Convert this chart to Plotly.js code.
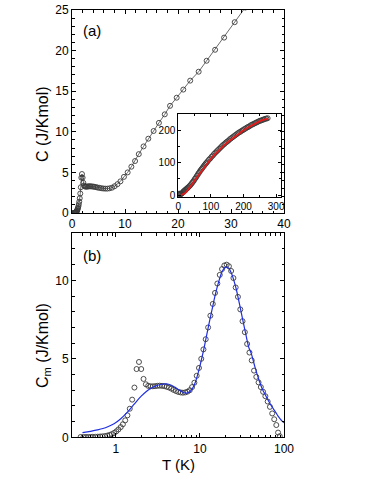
<!DOCTYPE html>
<html>
<head>
<meta charset="utf-8">
<script src="https://cdn.plot.ly/plotly-3.0.1.min.js"></script>
<style>html,body{margin:0;padding:0;background:#fff;}#plot{width:382px;height:494px;}</style>
</head>
<body>
<div id="plot"></div>
<script>
// ---- Panel (a): total heat capacity C vs T ----
var topT = [0.38,0.41,0.44,0.47,0.5,0.53,0.57,0.61,0.65,0.69,0.74,0.79,0.84,0.89,0.95,1.01,1.07,1.14,1.21,1.29,1.37,1.46,1.56,1.66,1.76,1.88,2.0,2.13,2.27,2.42,2.58,2.75,2.93,3.12,3.32,3.54,3.77,4.02,4.28,4.56,4.86,5.18,5.52,5.88,6.26,6.67,7.1,7.56,8.05,8.58,9.14,9.8,10.5,11.2,11.9,12.6,13.5,14.4,15.4,16.4,17.5,18.5,19.75,21.0,22.3,23.9,25.4,27.0,28.7,30.7,32.7,34.8];
var topC = [0.02,0.02,0.02,0.02,0.02,0.03,0.03,0.04,0.05,0.06,0.08,0.11,0.15,0.2,0.28,0.38,0.5,0.65,0.83,1.08,1.4,1.82,2.4,3.17,4.35,4.8,4.35,3.72,3.38,3.28,3.25,3.25,3.26,3.28,3.29,3.28,3.27,3.25,3.22,3.18,3.13,3.1,3.05,3.02,3.0,3.0,3.04,3.12,3.3,3.55,3.9,4.45,5.0,5.7,6.4,7.25,8.2,9.15,10.1,11.1,12.15,13.2,14.2,15.2,16.3,17.4,18.75,20.1,21.6,23.5,25.3,27.2];

// ---- Inset: C vs T up to room temperature, with fit ----
var insetT = [1,1.5,2,3,4,5,6,7,8,9,10,12,14,16,18,20,22,24,26,28,30,33,36,39,42,45,48,51,54,57,60,63,66,69,72,75,78,81,84,87,90,94,98,102,106,110,114,118,122,126,130,134,138,142,146,150,154,158,162,166,170,174,178,182,186,190,194,198,202,206,210,214,218,222,226,230,234,238,242,246,250,254,258,262,266,270,274];
var insetC = [0.3,1.2,4.4,3.3,3.3,3.2,3.0,3.0,3.3,3.9,4.6,6.4,8.6,10.8,12.8,14.5,16.2,17.9,19.7,21.5,23.3,26.3,29.5,33,37,41,45,50,54,59,64,68,73,77,81,85,89,93,97,100,104,109,113,118,122,127,131,135,139,143,147,151,155,158,162,165,168,172,175,178,181,184,187,190,193,195,198,200,203,205,208,210,212,215,217,219,221,223,225,227,229,230,232,233,235,236,237];
var insetFitT = [8,10,15,20,25,30,35,40,45,50,55,60,65,70,75,80,90,100,110,120,130,140,150,160,170,180,190,200,210,220,230,240,250,260,270,276];
var insetFitC = [0,0.5,2,5,10,16,23,30,37,45,52,59,66,73,80,87,100,112,123,134,144,153,162,170,178,186,193,200,206,212,218,223,228,232,235,236];

// ---- Panel (b): magnetic heat capacity Cm vs T (log) with fit ----
var magT = [0.38,0.41,0.44,0.47,0.5,0.53,0.57,0.61,0.65,0.69,0.74,0.79,0.84,0.89,0.95,1.01,1.07,1.14,1.21,1.29,1.37,1.46,1.56,1.66,1.76,1.88,2.0,2.13,2.27,2.42,2.58,2.75,2.93,3.12,3.32,3.54,3.77,4.02,4.28,4.56,4.86,5.18,5.52,5.88,6.26,6.67,7.1,7.56,8.05,8.58,9.14,9.73,10.36,11.0,11.7,12.5,13.3,14.2,15.1,16.1,17.2,18.3,19.5,20.8,22.1,23.5,25.0,26.6,28.3,30.2,32.1,34.2,36.4,38.8,41.3,44,46.8,49.8,53,56.4,60,63.9,68,72.4,76.5,81,85,89];
var magC = [0.02,0.02,0.02,0.02,0.02,0.03,0.03,0.04,0.05,0.06,0.08,0.11,0.15,0.2,0.28,0.38,0.5,0.65,0.83,1.08,1.4,1.82,2.4,3.17,4.35,4.8,4.35,3.72,3.38,3.28,3.25,3.25,3.26,3.28,3.29,3.28,3.26,3.22,3.17,3.1,3.02,2.95,2.89,2.86,2.84,2.86,2.91,3.0,3.2,3.48,3.92,4.42,5.0,5.6,6.25,7.0,7.75,8.5,9.2,9.8,10.35,10.72,10.95,11.0,10.9,10.6,10.15,9.55,8.95,8.15,7.4,6.7,5.95,5.4,4.9,4.25,3.85,3.5,3.2,2.9,2.62,2.28,1.94,1.52,1.15,0.78,0.3,0.07];
var fitT = [0.4,0.5,0.6,0.7,0.8,0.9,1.0,1.15,1.3,1.5,1.75,2.0,2.3,2.6,3.0,3.5,4.0,4.5,5.0,5.5,6.0,6.5,7.0,7.5,8.0,8.5,9.0,9.5,10,11,12,13,14,15,16,17,18,19,20,21,22,23,24,25,27,29,31,33,35,38,41,45,50,55,60,65,70,75,80,85,90,95,100];
var fitC = [0.30,0.38,0.47,0.56,0.67,0.80,0.95,1.20,1.48,1.85,2.28,2.62,2.92,3.12,3.28,3.38,3.40,3.33,3.2,3.05,2.92,2.84,2.82,2.88,3.05,3.3,3.65,4.1,4.55,5.5,6.5,7.4,8.2,8.95,9.55,10.05,10.45,10.7,10.83,10.85,10.78,10.6,10.38,10.1,9.45,8.7,7.95,7.25,6.6,5.75,5.3,4.5,3.7,3.1,2.7,2.35,2.05,1.8,1.57,1.35,1.17,1.03,0.92];

var W = 382, H = 494;
function px(x){return x/W;}
function py(y){return 1 - y/H;}
var FONT = 'Liberation Sans, Arial, sans-serif';
var markerStyle = {symbol:'circle-open', size:5, color:'#3a3a3a', line:{width:0.9, color:'#3a3a3a'}};

var traces = [
  {x: topT, y: topC, xaxis:'x', yaxis:'y', mode:'lines+markers', type:'scatter',
   line:{color:'#444', width:0.8}, marker: markerStyle, hoverinfo:'skip'},
  {x: insetT, y: insetC, xaxis:'x3', yaxis:'y3', mode:'markers', type:'scatter',
   marker: markerStyle, hoverinfo:'skip'},
  {x: insetFitT, y: insetFitC, xaxis:'x3', yaxis:'y3', mode:'lines', type:'scatter',
   line:{color:'#e41a1a', width:1.8}, hoverinfo:'skip'},
  {x: magT, y: magC, xaxis:'x2', yaxis:'y2', mode:'markers', type:'scatter',
   marker: markerStyle, hoverinfo:'skip'},
  {x: fitT, y: fitC, xaxis:'x2', yaxis:'y2', mode:'lines', type:'scatter',
   line:{color:'#1f2fe0', width:1.2, shape:'spline'}, hoverinfo:'skip'}
];

function axBase(extra){
  var a = {showline:true, linecolor:'#000', linewidth:1, mirror:'ticks', ticks:'inside',
    ticklen:4, tickwidth:1, tickcolor:'#000', showgrid:false, zeroline:false,
    tickfont:{family:FONT, size:12, color:'#000'}};
  for (var k in extra) a[k] = extra[k];
  return a;
}
function ann(text, x, y, size, angle){
  return {text:text, x:px(x), y:py(y), xref:'paper', yref:'paper', showarrow:false,
    xanchor:'center', yanchor:'middle', textangle:angle||0,
    font:{family:FONT, size:size, color:'#000'}};
}

var xdom = [px(72), px(284)];
var layout = {
  width: W, height: H, margin:{l:0,r:0,t:0,b:0}, showlegend:false,
  paper_bgcolor:'#fff', plot_bgcolor:'rgba(0,0,0,0)',
  font:{family:FONT, color:'#000'},
  xaxis: axBase({domain:xdom, anchor:'y', range:[0,40], dtick:10, tick0:0,
    minor:{dtick:2, ticks:'inside', ticklen:2.5, tickcolor:'#000'}}),
  yaxis: axBase({domain:[py(213), py(10)], anchor:'x', range:[0,25], dtick:5, tick0:0,
    minor:{dtick:1, ticks:'inside', ticklen:2.5, tickcolor:'#000'}}),
  xaxis2: axBase({domain:xdom, anchor:'y2', type:'log', range:[Math.log10(0.3), 2],
    tickmode:'array', tickvals:[1,10,100], ticktext:['1','10','100'],
    minor:{tickmode:'array', tickvals:[0.3,0.4,0.5,0.6,0.7,0.8,0.9,2,3,4,5,6,7,8,9,20,30,40,50,60,70,80,90], ticks:'inside', ticklen:2.5, tickcolor:'#000'}}),
  yaxis2: axBase({domain:[py(437.3), py(233.3)], anchor:'x2', range:[0,13], dtick:5, tick0:0,
    minor:{dtick:1, ticks:'inside', ticklen:2.5, tickcolor:'#000'}}),
  xaxis3: axBase({domain:[px(178.3), px(281)], anchor:'y3', range:[0,315], dtick:100, tick0:0,
    ticklen:3, tickfont:{family:FONT, size:10, color:'#000'},
    minor:{dtick:50, ticks:'inside', ticklen:2, tickcolor:'#000'}}),
  yaxis3: axBase({domain:[py(197.3), py(114)], anchor:'x3', range:[-7,250], dtick:100, tick0:0,
    ticklen:3, tickfont:{family:FONT, size:10, color:'#000'},
    minor:{dtick:50, ticks:'inside', ticklen:2, tickcolor:'#000'}}),
  annotations: [
    ann('(a)', 92, 31, 15),
    ann('(b)', 91.5, 255, 15),
    ann('C (J/Kmol)', 43, 124, 16, -90),
    ann('C<sub>m</sub> (J/Kmol)', 43, 346, 16, -90),
    ann('T (K)', 178, 464, 15)
  ]
};

Plotly.newPlot('plot', traces, layout, {staticPlot:true, displayModeBar:false});
</script>
</body>
</html>
